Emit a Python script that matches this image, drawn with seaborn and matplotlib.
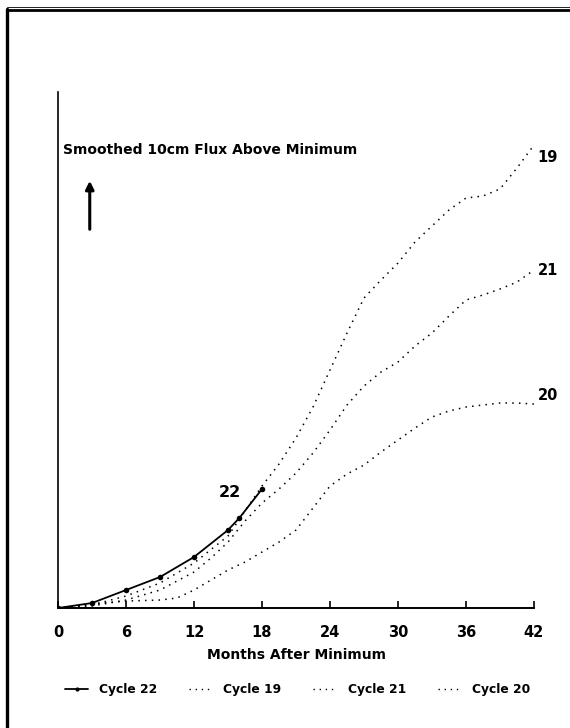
import numpy as np
import pandas as pd
import matplotlib
matplotlib.use('Agg')
import matplotlib.pyplot as plt
import seaborn as sns
from matplotlib.lines import Line2D

# ── Data (flux above minimum, arbitrary units) ───────────────────────────────
months_22 = [0, 3, 6, 9, 12, 15, 16, 18]
flux_22 = [0, 5, 18, 31, 51, 78, 90, 119]

months_19 = [0, 3, 6, 9, 12, 15, 18, 19.5, 21, 22.5, 24, 25.5, 27, 28.5, 30,
             31.5, 33, 34.5, 36, 37.5, 39, 40.5, 42]
flux_19 = [0, 3, 12, 25, 45, 72, 122, 144, 170, 201, 238, 275, 310, 328, 345,
           366, 382, 398, 410, 412, 419, 440, 463]

months_21 = [0, 3, 6, 9, 12, 13.5, 15, 16.5, 18, 19.5, 21, 22.5, 24, 25.5, 27,
             28.5, 30, 31.5, 33, 34.5, 36, 37.5, 39, 40.5, 42]
flux_21 = [0, 2, 8, 18, 36, 50, 66, 87, 105, 119, 135, 155, 178, 203, 222,
           236, 246, 262, 275, 292, 308, 313, 319, 326, 338]

months_20 = [0, 3, 6, 9, 10.5, 12, 13.5, 15, 16.5, 18, 19.5, 21, 22.5, 24,
             25.5, 27, 28.5, 30, 31.5, 33, 34.5, 36, 37.5, 39, 40.5, 42]
flux_20 = [0, 4, 7, 8, 10, 18, 28, 38, 46, 56, 66, 78, 100, 122, 134, 143,
           156, 168, 180, 191, 197, 201, 203, 205, 205, 204]

x_ticks = [0, 6, 12, 18, 24, 30, 36, 42]
end_labels = {'19': 451, '21': 338, '20': 213}

# ── Style ────────────────────────────────────────────────────────────────────
sns.set_style('white')
plt.rcParams['font.family'] = ['DejaVu Sans']
plt.rcParams['font.weight'] = 'bold'
plt.rcParams['text.color'] = 'black'
plt.rcParams['axes.labelcolor'] = 'black'
plt.rcParams['xtick.color'] = 'black'

fig = plt.figure(figsize=(5.70, 7.28), dpi=100)
ax = fig.add_axes([0.1018, 0.1648, 0.835, 0.7088])

dots = (0, (1, 3.4))
sns.lineplot(x=months_22, y=flux_22, ax=ax, color='black', lw=1.3,
             marker='o', markersize=4, markeredgewidth=0, label='Cycle 22')
sns.lineplot(x=months_19, y=flux_19, ax=ax, color='black', lw=1.1,
             linestyle=dots, label='Cycle 19')
sns.lineplot(x=months_21, y=flux_21, ax=ax, color='black', lw=1.1,
             linestyle=dots, label='Cycle 21')
sns.lineplot(x=months_20, y=flux_20, ax=ax, color='black', lw=1.1,
             linestyle=dots, label='Cycle 20')

ax.set_xlim(0, 42)
ax.set_ylim(0, 516)
ax.set_xticks(x_ticks)
ax.set_yticks([])
ax.tick_params(axis='x', direction='in', length=5, width=1.2, pad=12,
               labelsize=10.5, bottom=True, colors='black')
for lab in ax.get_xticklabels():
    lab.set_fontweight('bold')
ax.set_xlabel('Months After Minimum', fontsize=10, fontweight='bold',
              labelpad=6, color='black')
ax.set_ylabel('')
for side in ['top', 'right']:
    ax.spines[side].set_visible(False)
ax.spines['left'].set_linewidth(1.2)
ax.spines['bottom'].set_linewidth(1.4)
ax.spines['left'].set_color('black')
ax.spines['bottom'].set_color('black')

# annotations
ax.text(0.45, 458, 'Smoothed 10cm Flux Above Minimum', fontsize=10,
        fontweight='bold', ha='left', va='center', color='black')
ax.annotate('', xy=(2.8, 430), xytext=(2.8, 376),
            arrowprops=dict(arrowstyle='-|>', color='black', lw=2.2,
                            mutation_scale=12))
ax.text(15.2, 116, '22', fontsize=11.5, fontweight='bold',
        ha='center', va='center', color='black')
for name, yv in end_labels.items():
    ax.text(42.3, yv, name, fontsize=10.5, fontweight='bold',
            ha='left', va='center', clip_on=False, color='black')

# legend under the axis label
ax.get_legend().remove()
handles = [
    Line2D([], [], color='black', lw=1.3, marker='o', markersize=3,
           markeredgewidth=0),
    Line2D([], [], color='black', lw=1.0, linestyle=dots),
    Line2D([], [], color='black', lw=1.0, linestyle=dots),
    Line2D([], [], color='black', lw=1.0, linestyle=dots),
]
leg = fig.legend(handles, ['Cycle 22', 'Cycle 19', 'Cycle 21', 'Cycle 20'],
                 loc='center', bbox_to_anchor=(0.522, 1 - 690 / 728), ncol=4,
                 frameon=False, prop={'weight': 'bold', 'size': 8.8},
                 handlelength=1.9, handletextpad=0.9, columnspacing=2.6)
for t in leg.get_texts():
    t.set_color('black')

# page border (left and top edges of the scanned frame)
fig.add_artist(Line2D([0.012, 0.012], [0, 0.987], color='black', lw=2.4,
                      transform=fig.transFigure))
fig.add_artist(Line2D([0.012, 1.0], [0.986, 0.986], color='black', lw=2.0,
                      transform=fig.transFigure))
fig.add_artist(Line2D([0.012, 1.0], [0.991, 0.991], color='black', lw=0.6,
                      transform=fig.transFigure))

fig.savefig('out.png', dpi=100)
